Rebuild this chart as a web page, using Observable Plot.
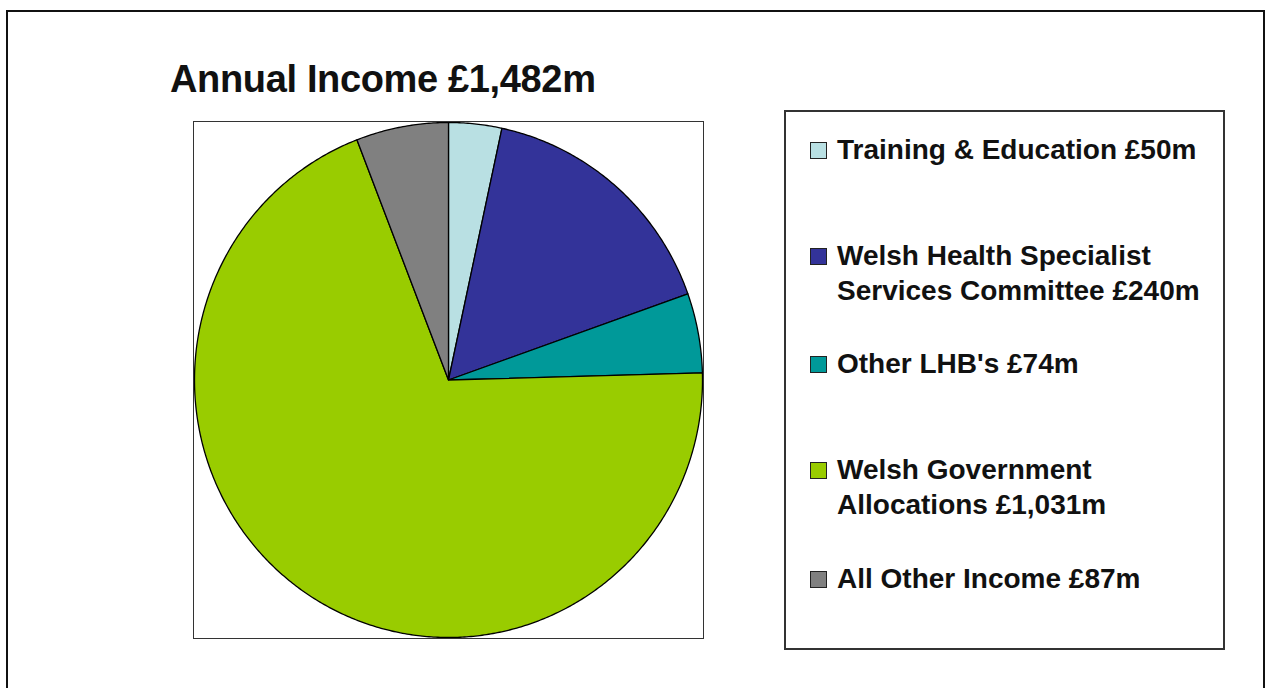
<!DOCTYPE html>
<html>
<head>
<meta charset="utf-8">
<script src="https://cdn.jsdelivr.net/npm/d3@7"></script>
<script src="https://cdn.jsdelivr.net/npm/@observablehq/plot@0.6"></script>
<style>
  html, body { margin: 0; padding: 0; background: #fff; }
  #wrap { position: relative; width: 1268px; height: 688px; overflow: hidden; font-family: "Liberation Sans", Arial, sans-serif; }
  #wrap svg { position: absolute; left: 0; top: 0; background: transparent; }
  .box { position: absolute; box-sizing: border-box; pointer-events: none; }
  .title { position: absolute; left: 170px; top: 60px; font-size: 38px; line-height: 1; font-weight: bold; letter-spacing: -0.35px; color: #111; white-space: nowrap; }
  .lrow { position: absolute; left: 0; font-size: 28px; line-height: 35px; font-weight: bold; color: #111; white-space: nowrap; }
  .lrow .sw { position: absolute; left: 810px; width: 17px; height: 17px; box-sizing: border-box; border: 1.5px solid #222; }
  .lrow .tx { position: absolute; left: 837px; top: 0; }
</style>
</head>
<body>
<div id="wrap"></div>
<script>
// ---- data ----
const categories = [
  "Training & Education",
  "Welsh Health Specialist Services Committee",
  "Other LHB's",
  "Welsh Government Allocations",
  "All Other Income"
];
const values = [50, 240, 74, 1031, 87];
const colors = ["#B9E0E3", "#333399", "#009999", "#99CC00", "#808080"];
const legendLines = [
  ["Training & Education £50m"],
  ["Welsh Health Specialist", "Services Committee £240m"],
  ["Other LHB's £74m"],
  ["Welsh Government", "Allocations £1,031m"],
  ["All Other Income £87m"]
];
const titleText = "Annual Income £1,482m";

// ---- geometry from data via d3.pie ----
const arcs = d3.pie().sort(null).value(d => d)(values);
const pts = [];
arcs.forEach((a, i) => {
  const cat = categories[i];
  pts.push({cat, x: 0, y: 0});
  const n = Math.max(2, Math.ceil((a.endAngle - a.startAngle) / (Math.PI / 360)));
  for (let k = 0; k <= n; k++) {
    const t = a.startAngle + (a.endAngle - a.startAngle) * k / n;
    pts.push({cat, x: Math.sin(t), y: Math.cos(t)});
  }
});

const W = 1268, H = 688;
const plot = Plot.plot({
  width: W,
  height: H,
  marginLeft: 194,
  marginRight: W - 702,
  marginTop: 122,
  marginBottom: H - 637,
  style: {background: "transparent"},
  x: {domain: [-1, 1], axis: null},
  y: {domain: [-1, 1], axis: null},
  color: {domain: categories, range: colors},
  marks: [
    Plot.line(pts, {x: "x", y: "y", z: "cat", fill: "cat", stroke: "#000", strokeWidth: 1.3, strokeLinejoin: "round", curve: "linear-closed"})
  ]
});

const wrap = document.getElementById("wrap");
wrap.appendChild(plot);

function box(l, t, r, b, border) {
  const d = document.createElement("div");
  d.className = "box";
  d.style.left = l + "px"; d.style.top = t + "px";
  d.style.width = (r - l) + "px"; d.style.height = (b - t) + "px";
  d.style.border = border;
  wrap.appendChild(d);
}
// outer chart border, plot-area border, legend border
box(6, 10, 1265, 720, "2px solid #111");
box(193, 121, 704, 639, "1.5px solid #333");
box(784, 110, 1225, 650, "2px solid #333");

const title = document.createElement("div");
title.className = "title";
title.textContent = titleText;
wrap.appendChild(title);

const color = plot.scale("color");
const rowTops = [132, 238, 346, 452, 561];
legendLines.forEach((lines, i) => {
  const row = document.createElement("div");
  row.className = "lrow";
  row.style.top = rowTops[i] + "px";
  const sw = document.createElement("div");
  sw.className = "sw";
  sw.style.top = "10px";
  sw.style.background = color.apply(categories[i]);
  const tx = document.createElement("div");
  tx.className = "tx";
  tx.innerHTML = lines.map(s => s.replace(/&/g, "&amp;")).join("<br>");
  row.appendChild(sw);
  row.appendChild(tx);
  wrap.appendChild(row);
});
</script>
</body>
</html>
